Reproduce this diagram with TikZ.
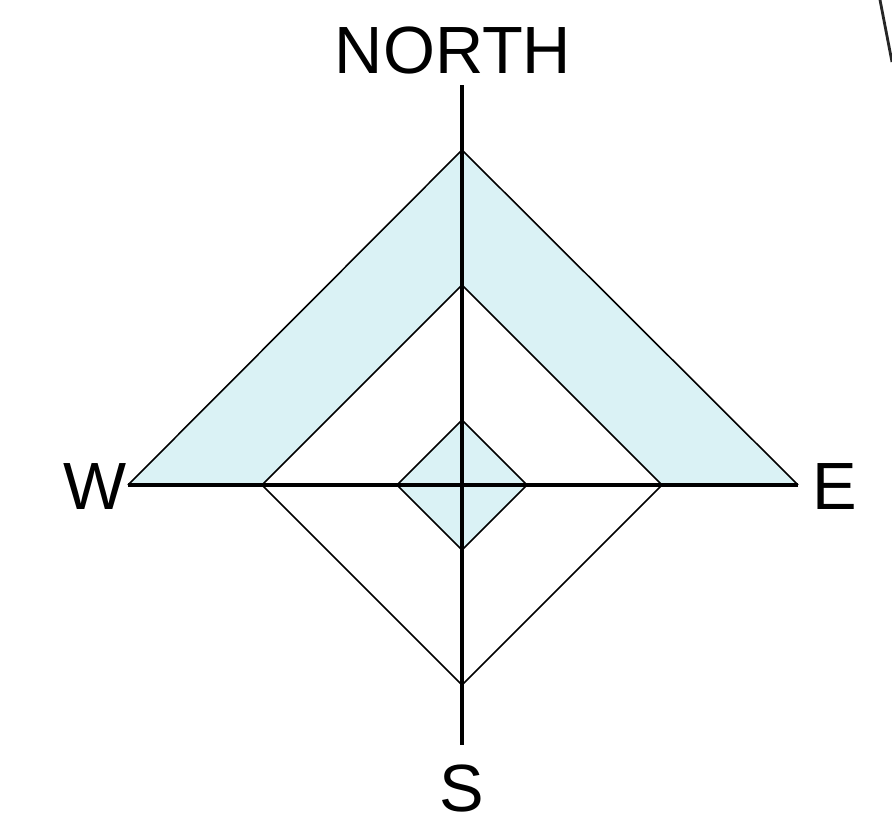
\documentclass[tikz,border=0pt]{standalone}
\usepackage{fontspec}
\setmainfont{Liberation Sans}
\definecolor{bandblue}{RGB}{218,242,245}
\begin{document}
\begin{tikzpicture}[x=0.01cm, y=-0.01cm,
		axis/.style={line width=1.25pt},
		edge/.style={line width=0.45pt},
		compass/.style={font=\fontsize{19}{23}\selectfont, inner sep=0pt}]
			\useasboundingbox (0,0) rectangle (892,833);
			% points of the shapes
			\coordinate (c) at (462,485);
			\coordinate (otop) at (462,150);
			\coordinate (oleft) at (128,485);
			\coordinate (oright) at (798,485);
			\coordinate (itop) at (462,285);
			\coordinate (ileft) at (262,485);
			\coordinate (iright) at (662,485);
			\coordinate (ibot) at (462,685);
			\coordinate (stop) at (462,420);
			\coordinate (sleft) at (397,485);
			\coordinate (sright) at (527,485);
			\coordinate (sbot) at (462,550);
			\coordinate (ntip) at (462,85);
			\coordinate (stip) at (462,745);
			% band and small diamond
			\fill[bandblue] (oleft) -- (otop) -- (oright) -- (iright) -- (itop) -- (ileft) -- cycle;
			\draw[edge] (oleft) -- (otop) -- (oright);
			\draw[edge] (ileft) -- (itop) -- (iright) -- (ibot) -- cycle;
			\draw[edge, fill=bandblue] (sleft) -- (stop) -- (sright) -- (sbot) -- cycle;
			% axes
			\draw[axis] (ntip) -- (stip);
			\draw[axis] (oleft) -- (oright);
			% labels
			\node[compass] (north) at (453,50) {NORTH};
			\node[compass] (west) at (95,486) {W};
			\node[compass] (east) at (835,486) {E};
			\node[compass] (south) at (462,788) {S};
			% edge of something on the right
			\coordinate (rtop) at (880,0);
			\coordinate (rbot) at (892,62);
			\draw[line width=0.8pt, black!85] (rtop) -- (rbot);
		\end{tikzpicture}
\end{document}
